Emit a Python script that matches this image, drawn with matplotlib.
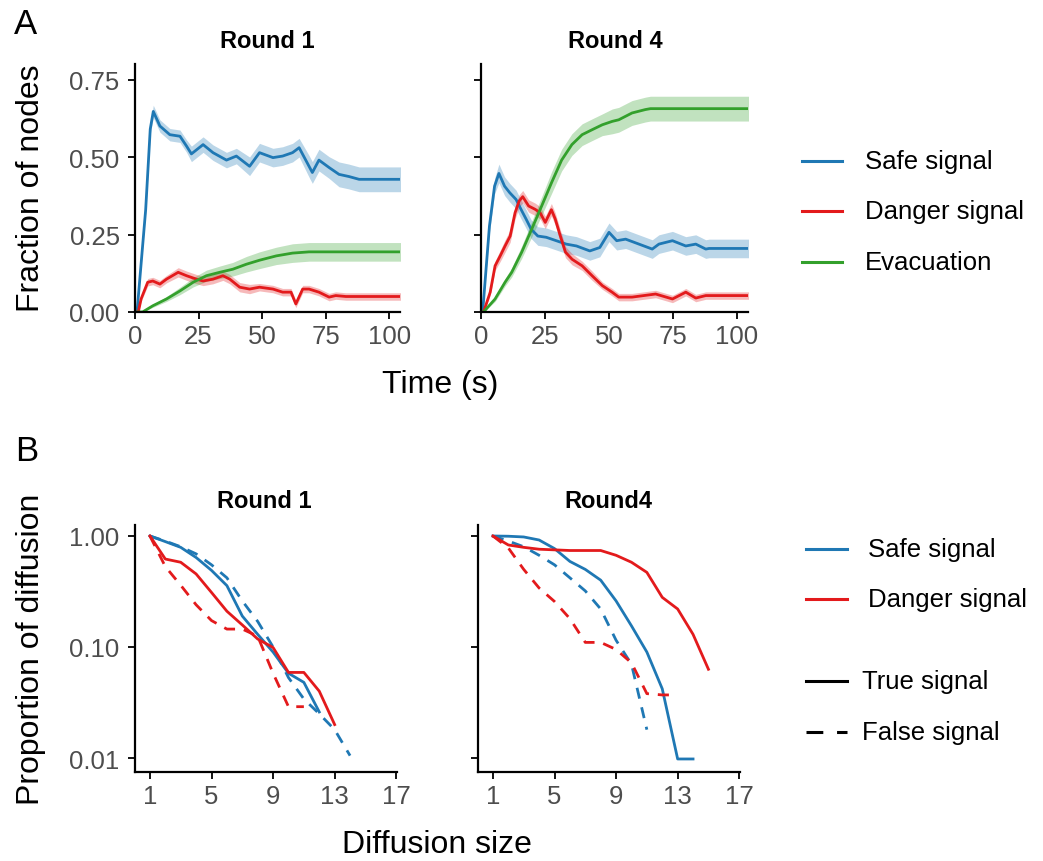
import matplotlib
matplotlib.use("Agg")
import matplotlib.pyplot as plt
from matplotlib.lines import Line2D

plt.rcParams['font.family'] = ['Liberation Sans', 'DejaVu Sans']

# ---------------- data: panel A (time series) ----------------
r1_safe_t = [0, 0.8, 4.2, 6, 7.2, 9.8, 13.7, 17.7, 20.3, 22.2, 26.8, 30.7, 36, 39.9, 45.1, 49,
             54.3, 58.1, 62, 64.6, 68.5, 69.8, 72.4, 76.4, 80.3, 84.2, 88.2, 104.5]
r1_safe_v = [0, 0, 0.33, 0.59, 0.647, 0.60, 0.572, 0.567, 0.535, 0.51, 0.54, 0.514, 0.49, 0.503,
             0.47, 0.514, 0.498, 0.503, 0.514, 0.53, 0.47, 0.45, 0.49, 0.466, 0.444, 0.437, 0.428, 0.428]
r1_safe_hw = [0, 0, 0.01, 0.015, 0.02, 0.02, 0.02, 0.02, 0.02, 0.025, 0.025, 0.025, 0.025, 0.025,
              0.03, 0.03, 0.03, 0.03, 0.03, 0.03, 0.035, 0.035, 0.035, 0.035, 0.04, 0.04, 0.04, 0.04]

r1_danger_t = [0, 1.3, 2.4, 5, 7, 9.8, 12.4, 17, 20.3, 24.2, 26.8, 30.7, 34.6, 37.3, 41.2, 45.1,
               49, 54.3, 58.1, 61.4, 63.3, 66, 68.5, 72.4, 76.4, 79, 83, 104.5]
r1_danger_v = [0, 0, 0.042, 0.096, 0.10, 0.09, 0.106, 0.128, 0.117, 0.106, 0.10, 0.106, 0.117,
               0.106, 0.08, 0.074, 0.08, 0.074, 0.064, 0.064, 0.026, 0.074, 0.074, 0.064, 0.048,
               0.053, 0.05, 0.05]
r1_danger_hw = [0, 0, 0.008, 0.012, 0.012, 0.012, 0.012, 0.015, 0.015, 0.015, 0.015, 0.015, 0.015,
                0.015, 0.015, 0.015, 0.012, 0.012, 0.012, 0.012, 0.012, 0.012, 0.012, 0.012, 0.012,
                0.012, 0.012, 0.012]

r1_evac_t = [0, 3, 7, 12.4, 17.7, 22.9, 28.1, 33.3, 38.5, 43.8, 49, 55.6, 62, 68.5, 104.5]
r1_evac_v = [0, 0, 0.02, 0.042, 0.068, 0.096, 0.117, 0.128, 0.138, 0.154, 0.167, 0.181, 0.19,
             0.194, 0.194]
r1_evac_hw = [0, 0, 0.005, 0.008, 0.012, 0.015, 0.018, 0.02, 0.022, 0.025, 0.027, 0.028, 0.03,
              0.03, 0.03]

r4_safe_t = [0, 0.65, 3.3, 5.3, 7, 9.2, 11.2, 13.7, 15.7, 17.6, 19.6, 22.2, 25.5, 29.4, 33.3,
             37.3, 42.5, 46.4, 50, 53, 56.5, 61.7, 66.9, 69.5, 74.8, 80, 83.9, 87.8, 89.1, 104.5]
r4_safe_v = [0, 0, 0.277, 0.406, 0.447, 0.406, 0.385, 0.363, 0.33, 0.30, 0.267, 0.245, 0.241,
             0.23, 0.219, 0.213, 0.197, 0.208, 0.257, 0.23, 0.235, 0.219, 0.203, 0.219, 0.23,
             0.213, 0.219, 0.203, 0.205, 0.205]
r4_safe_hw = [0, 0, 0.02, 0.025, 0.03, 0.03, 0.03, 0.03, 0.03, 0.03, 0.03, 0.03, 0.03, 0.03, 0.03,
              0.03, 0.03, 0.03, 0.03, 0.03, 0.03, 0.03, 0.03, 0.03, 0.03, 0.03, 0.03, 0.03, 0.03, 0.03]

r4_danger_t = [0, 1, 3.6, 5.5, 7.5, 9.4, 11.4, 13.3, 14.9, 16.3, 18.6, 21.2, 23.1, 25.1, 27.5, 29,
               31, 33, 35.6, 39.5, 43.4, 47.4, 51.2, 53.8, 59, 68.2, 74.8, 80, 83.9, 87.8, 104.5]
r4_danger_v = [0, 0, 0.064, 0.149, 0.181, 0.213, 0.245, 0.32, 0.358, 0.372, 0.342, 0.331, 0.32,
               0.289, 0.33, 0.30, 0.245, 0.193, 0.17, 0.149, 0.117, 0.085, 0.064, 0.048, 0.048,
               0.058, 0.042, 0.064, 0.045, 0.053, 0.053]
r4_danger_hw = [0, 0, 0.01, 0.015, 0.018, 0.02, 0.02, 0.02, 0.02, 0.02, 0.02, 0.02, 0.02, 0.02,
                0.02, 0.02, 0.02, 0.018, 0.018, 0.015, 0.015, 0.012, 0.012, 0.012, 0.012, 0.012,
                0.012, 0.012, 0.012, 0.012, 0.012]

r4_evac_t = [0, 1, 5.5, 9.4, 12, 15.9, 19.8, 23.7, 27.6, 31.5, 35.5, 39.5, 43.4, 47.4, 51.3, 53.8,
             59, 64.2, 66.2, 104.5]
r4_evac_v = [0, 0, 0.042, 0.096, 0.128, 0.193, 0.267, 0.342, 0.418, 0.49, 0.54, 0.572, 0.588,
             0.604, 0.615, 0.62, 0.642, 0.653, 0.656, 0.656]
r4_evac_hw = [0, 0, 0.008, 0.012, 0.015, 0.02, 0.025, 0.03, 0.035, 0.035, 0.035, 0.035, 0.035,
              0.035, 0.04, 0.04, 0.04, 0.04, 0.04, 0.04]

# ---------------- data: panel B (diffusion size CCDF) ----------------
r1_safe_true_x = [1, 2, 3, 4, 5, 6, 7, 8, 9, 10, 11, 12]
r1_safe_true_y = [1.0, 0.89, 0.79, 0.64, 0.49, 0.357, 0.19, 0.13, 0.09, 0.058, 0.048, 0.026]
r1_safe_false_x = [1, 2, 3, 4, 5, 6, 7, 8, 9, 10, 11, 12, 13, 14]
r1_safe_false_y = [1.0, 0.9, 0.80, 0.69, 0.55, 0.42, 0.26, 0.17, 0.10, 0.053, 0.034, 0.025,
                   0.018, 0.0105]
r1_danger_true_x = [1, 2, 3, 4, 5, 6, 7, 8, 9, 10, 11, 12, 13]
r1_danger_true_y = [1.0, 0.62, 0.58, 0.455, 0.31, 0.21, 0.158, 0.118, 0.099, 0.059, 0.059, 0.04, 0.02]
r1_danger_false_x = [1, 2, 3, 4, 5, 6, 7, 8, 9, 10, 11]
r1_danger_false_y = [1.0, 0.53, 0.36, 0.24, 0.173, 0.145, 0.145, 0.125, 0.058, 0.029, 0.029]

r4_safe_true_x = [1, 2, 3, 4, 5, 6, 7, 8, 9, 10, 11, 12, 13, 14]
r4_safe_true_y = [1.0, 0.995, 0.98, 0.92, 0.77, 0.59, 0.50, 0.40, 0.26, 0.155, 0.09, 0.042,
                  0.0098, 0.0098]
r4_safe_false_x = [1, 2, 3, 4, 5, 6, 7, 8, 9, 10, 11]
r4_safe_false_y = [1.0, 0.90, 0.80, 0.67, 0.55, 0.42, 0.32, 0.22, 0.115, 0.07, 0.018]
r4_danger_true_x = [1, 2, 3, 4, 5, 6, 7, 8, 9, 10, 11, 12, 13, 14, 15]
r4_danger_true_y = [1.0, 0.83, 0.79, 0.76, 0.75, 0.74, 0.74, 0.74, 0.67, 0.58, 0.47, 0.28, 0.22,
                    0.13, 0.063]
r4_danger_false_x = [1, 2, 3, 4, 5, 6, 7, 8, 9, 10, 11, 12, 13]
r4_danger_false_y = [1.0, 0.78, 0.50, 0.34, 0.257, 0.18, 0.11, 0.11, 0.095, 0.072, 0.038, 0.037, 0.037]

time_ticks = [0, 25, 50, 75, 100]
frac_ticks = [0.0, 0.25, 0.5, 0.75]
frac_labels = ['0.00', '0.25', '0.50', '0.75']
size_ticks = [1, 5, 9, 13, 17]
prop_ticks = [0.01, 0.1, 1.0]
prop_labels = ['0.01', '0.10', '1.00']

BLUE = '#1f78b4'
RED = '#e31a1c'
GREEN = '#33a02c'

W, H = 1043, 862
fig = plt.figure(figsize=(W / 100, H / 100), dpi=100)


def box(l, t, r, b):
    return [l / W, 1 - b / H, (r - l) / W, (b - t) / H]


ax1 = fig.add_axes(box(135, 65, 400, 313))
ax2 = fig.add_axes(box(481, 65, 748, 313))
ax3 = fig.add_axes(box(135, 526, 397, 773))
ax4 = fig.add_axes(box(478, 526, 740, 773))


def style(ax):
    for s in ['top', 'right']:
        ax.spines[s].set_visible(False)
    for s in ['left', 'bottom']:
        ax.spines[s].set_color('black')
        ax.spines[s].set_linewidth(1.6)
    ax.tick_params(axis='both', which='major', length=5, width=1.3, color='black',
                   labelsize=18.5, labelcolor='#4d4d4d')
    ax.tick_params(axis='x', pad=4)
    ax.tick_params(axis='y', pad=6)
    ax.tick_params(which='minor', length=0)


series_top = [
    (ax1, r1_safe_t, r1_safe_v, r1_safe_hw, BLUE),
    (ax1, r1_danger_t, r1_danger_v, r1_danger_hw, RED),
    (ax1, r1_evac_t, r1_evac_v, r1_evac_hw, GREEN),
    (ax2, r4_safe_t, r4_safe_v, r4_safe_hw, BLUE),
    (ax2, r4_danger_t, r4_danger_v, r4_danger_hw, RED),
    (ax2, r4_evac_t, r4_evac_v, r4_evac_hw, GREEN),
]
for ax, t, v, hw, c in series_top:
    lo = [a - b for a, b in zip(v, hw)]
    hi = [a + b for a, b in zip(v, hw)]
    ax.fill_between(t, lo, hi, color=c, alpha=0.3, linewidth=0)
    ax.plot(t, v, color=c, lw=2.0, solid_joinstyle='round')

for ax in (ax1, ax2):
    style(ax)
    ax.set_xlim(0, 104.3)
    ax.set_ylim(0, 0.8)
    ax.set_xticks(time_ticks)
    ax.set_yticks(frac_ticks)
    ax.set_yticklabels(frac_labels)
ax2.set_yticklabels([])

DASH = (4, 3.2)
series_bot = [
    (ax3, r1_safe_true_x, r1_safe_true_y, BLUE, '-'),
    (ax3, r1_safe_false_x, r1_safe_false_y, BLUE, '--'),
    (ax3, r1_danger_true_x, r1_danger_true_y, RED, '-'),
    (ax3, r1_danger_false_x, r1_danger_false_y, RED, '--'),
    (ax4, r4_safe_true_x, r4_safe_true_y, BLUE, '-'),
    (ax4, r4_safe_false_x, r4_safe_false_y, BLUE, '--'),
    (ax4, r4_danger_true_x, r4_danger_true_y, RED, '-'),
    (ax4, r4_danger_false_x, r4_danger_false_y, RED, '--'),
]
for ax, x, y, c, ls in series_bot:
    ln, = ax.plot(x, y, color=c, lw=2.0)
    if ls == '--':
        ln.set_dashes(DASH)

for ax in (ax3, ax4):
    ax.set_yscale('log')
    style(ax)
    ax.set_xlim(0.03, 17.05)
    ax.set_ylim(0.00748, 1.256)
    ax.set_xticks(size_ticks)
    ax.set_yticks(prop_ticks)
    ax.set_yticklabels(prop_labels)
    ax.yaxis.set_minor_locator(matplotlib.ticker.NullLocator())
ax4.set_yticklabels([])

# titles
fig.text(267 / W, 1 - 41 / H, 'Round 1', ha='center', va='center', fontsize=17, fontweight='bold')
fig.text(615 / W, 1 - 41 / H, 'Round 4', ha='center', va='center', fontsize=17, fontweight='bold')
fig.text(264 / W, 1 - 502 / H, 'Round 1', ha='center', va='center', fontsize=17, fontweight='bold')
fig.text(608 / W, 1 - 502 / H, 'Round4', ha='center', va='center', fontsize=17, fontweight='bold')

# panel letters
fig.text(26 / W, 1 - 24 / H, 'A', ha='center', va='center', fontsize=25)
fig.text(27 / W, 1 - 452 / H, 'B', ha='center', va='center', fontsize=25)

# axis labels
fig.text(31 / W, 1 - 188 / H, 'Fraction of nodes', rotation=90, ha='center', va='center', fontsize=23)
fig.text(440 / W, 1 - 385 / H, 'Time (s)', ha='center', va='center', fontsize=23)
fig.text(31 / W, 1 - 649 / H, 'Proportion of diffusion', rotation=90, ha='center', va='center', fontsize=23)
fig.text(437 / W, 1 - 845 / H, 'Diffusion size', ha='center', va='center', fontsize=23)


# legends
def leg_line(x0, x1, y, color, dashed=False):
    ln = Line2D([x0 / W, x1 / W], [1 - y / H, 1 - y / H], transform=fig.transFigure,
                color=color, lw=2.2)
    if dashed:
        ln.set_dashes((5.5, 4.5))
    fig.add_artist(ln)


def leg_text(x, y, s):
    fig.text(x / W, 1 - y / H, s, ha='left', va='center', fontsize=18.5, color='black')


top_legend = [('Safe signal', BLUE, 162), ('Danger signal', RED, 212), ('Evacuation', GREEN, 263)]
for lab, c, y in top_legend:
    leg_line(802, 842, y, c)
    leg_text(865, y, lab)

bot_legend_col = [('Safe signal', BLUE, 550), ('Danger signal', RED, 600)]
for lab, c, y in bot_legend_col:
    leg_line(806, 847, y, c)
    leg_text(868, y, lab)

leg_line(806, 847, 682, 'black')
leg_text(862, 682, 'True signal')
leg_line(806, 847, 733, 'black', dashed=True)
leg_text(862, 733, 'False signal')

fig.savefig('out.png', dpi=100)
